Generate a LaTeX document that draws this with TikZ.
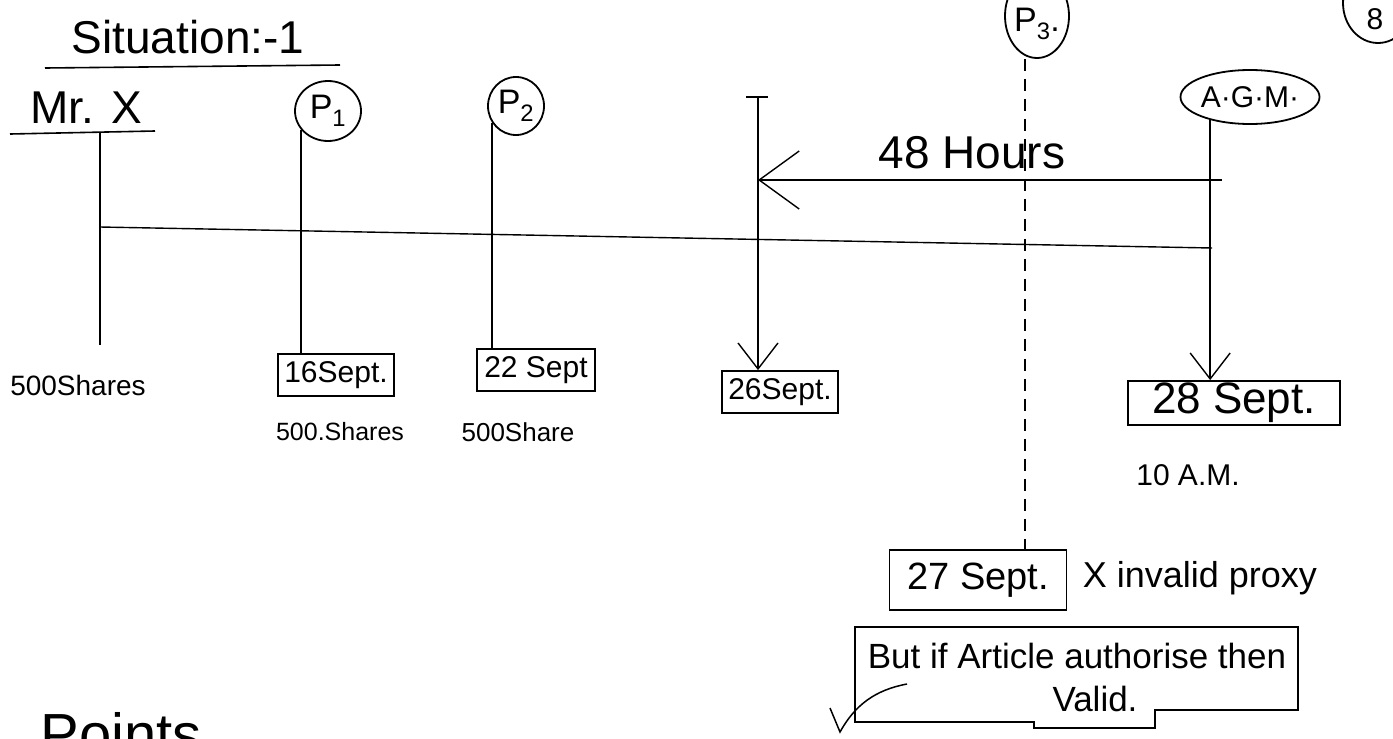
\documentclass[tikz,border=0pt]{standalone}
\usepackage{fontspec}
\setmainfont{Liberation Sans}
\usetikzlibrary{arrows.meta,shapes.geometric}
\newcommand{\fsz}[1]{\fontsize{#1}{#1}\selectfont}
\begin{document}
\begin{tikzpicture}[x=1pt,y=-1pt, line width=1.6pt,
  txt/.style={inner sep=0pt, anchor=center},
  datebox/.style={draw, rectangle, inner sep=0pt, line width=1.8pt},
  circ/.style={draw, ellipse, inner sep=0pt, line width=1.8pt},
  conn/.style={line width=1.4pt},
  vee/.style={-{Straight Barb[length=26pt,width=40pt]}},
  bigvee/.style={-{Straight Barb[length=40pt,width=58pt]}},
]
\useasboundingbox (0,0) rectangle (1393,739);
\fill[white] (0,0) rectangle (1393,739);
\clip (0,0) rectangle (1393,739);

% title
\node[txt, font=\fsz{46}] (sit) at (188,37) {Situation:-1};
\draw (45,68) -- (340,65);

% Mr X
\node[txt, font=\fsz{46}] (mrx) at (86,108) {Mr. X};
\draw (10,134) -- (155,131);
\coordinate (xtop) at (100,132);
\coordinate (xbot) at (100,345);
\draw[conn] (xtop) -- (xbot);
\node[txt, font=\fsz{28}] (sh0) at (78,385) {500Shares};

% timeline
\coordinate (tl) at (100,227);
\coordinate (tr) at (1212,248);
\draw[conn] (tl) -- (tr);

% P1
\node[circ, minimum width=66, minimum height=60, font=\fsz{34}] (p1) at (328,111) {P\textsubscript{1}};
\node[datebox, minimum width=116, minimum height=42, font=\fsz{30}] (d16) at (336,375) {16Sept.};
\draw[conn] (p1.215) -- (p1.215 |- d16.north);
\node[txt, font=\fsz{25}] (sh1) at (340,432) {500.Shares};

% P2
\node[circ, minimum width=56, minimum height=58, font=\fsz{34}] (p2) at (516,106) {P\textsubscript{2}};
\node[datebox, minimum width=118, minimum height=42, font=\fsz{30}] (d22) at (536,370) {22 Sept};
\draw[conn] (p2.215) -- (p2.215 |- d22.north);
\node[txt, font=\fsz{26}] (sh2) at (518,432) {500Share};

% 26 Sept
\node[datebox, minimum width=116, minimum height=42, font=\fsz{30}] (d26) at (780,392) {26Sept.};
\coordinate (t26) at (758,97);
\coordinate (t26l) at (746,97);
\coordinate (t26r) at (768,97);
\draw (t26l) -- (t26r);
\draw[conn, vee] (t26) -- (t26 |- d26.north);

% AGM
\node[circ, minimum width=132, minimum height=54, font=\fsz{30}] (agm) at (1250,97) {A·G·M·};
\node[datebox, minimum width=212, minimum height=44, font=\fsz{44}] (d28) at (1234,403) {28 Sept.};
\draw[conn, vee] (agm.210) -- (agm.210 |- d28.north);
\node[txt, font=\fsz{30}] (am) at (1188,475) {10 A.M.};

% 48 hours
\coordinate (hr) at (1222,180);
\draw[conn, bigvee] (hr) -- (t26 |- hr);
\node[txt, font=\fsz{46}] (h48) at (972,153) {48 Hours};

% P3
\node[circ, minimum width=64, minimum height=84, font=\fsz{34}] (p3) at (1037,16) {};
\node[txt, font=\fsz{34}] (p3t) at (1037,24) {P\textsubscript{3}.};
\node[datebox, minimum width=177, minimum height=60, font=\fsz{38}] (d27) at (978,580) {27 Sept.};
\draw[conn, dash pattern=on 12pt off 8pt] ([xshift=-12pt]p3.south) -- ([xshift=-12pt]p3.south |- d27.north);
\node[txt, font=\fsz{36}, anchor=west] (inv) at (1082,578) {X invalid proxy};

% note
\node[txt, align=center, font=\fontsize{35}{43}\selectfont] (note) at (1077,677) {But if Article authorise then\\\hspace*{36pt}Valid.};
\draw[line width=1.8pt] (855,627) -- (1298,627) -- (1298,710) -- (1155,710) -- (1155,728) -- (1034,728) -- (1034,722) -- (855,722) -- cycle;
\draw[line width=1.5pt] (830,708) -- (840,732) .. controls (855,705) and (875,690) .. (907,684);

% page number
\node[circ, minimum width=70, minimum height=80] (pg) at (1378,3) {};
\node[txt, font=\fsz{30}] (pgn) at (1375,19) {8};

% Points (cut off at the page edge, as in the reference)
\node[anchor=base west, inner sep=0pt, font=\fsz{58}] (pts) at (40,754) {Points};
\end{tikzpicture}
\end{document}
